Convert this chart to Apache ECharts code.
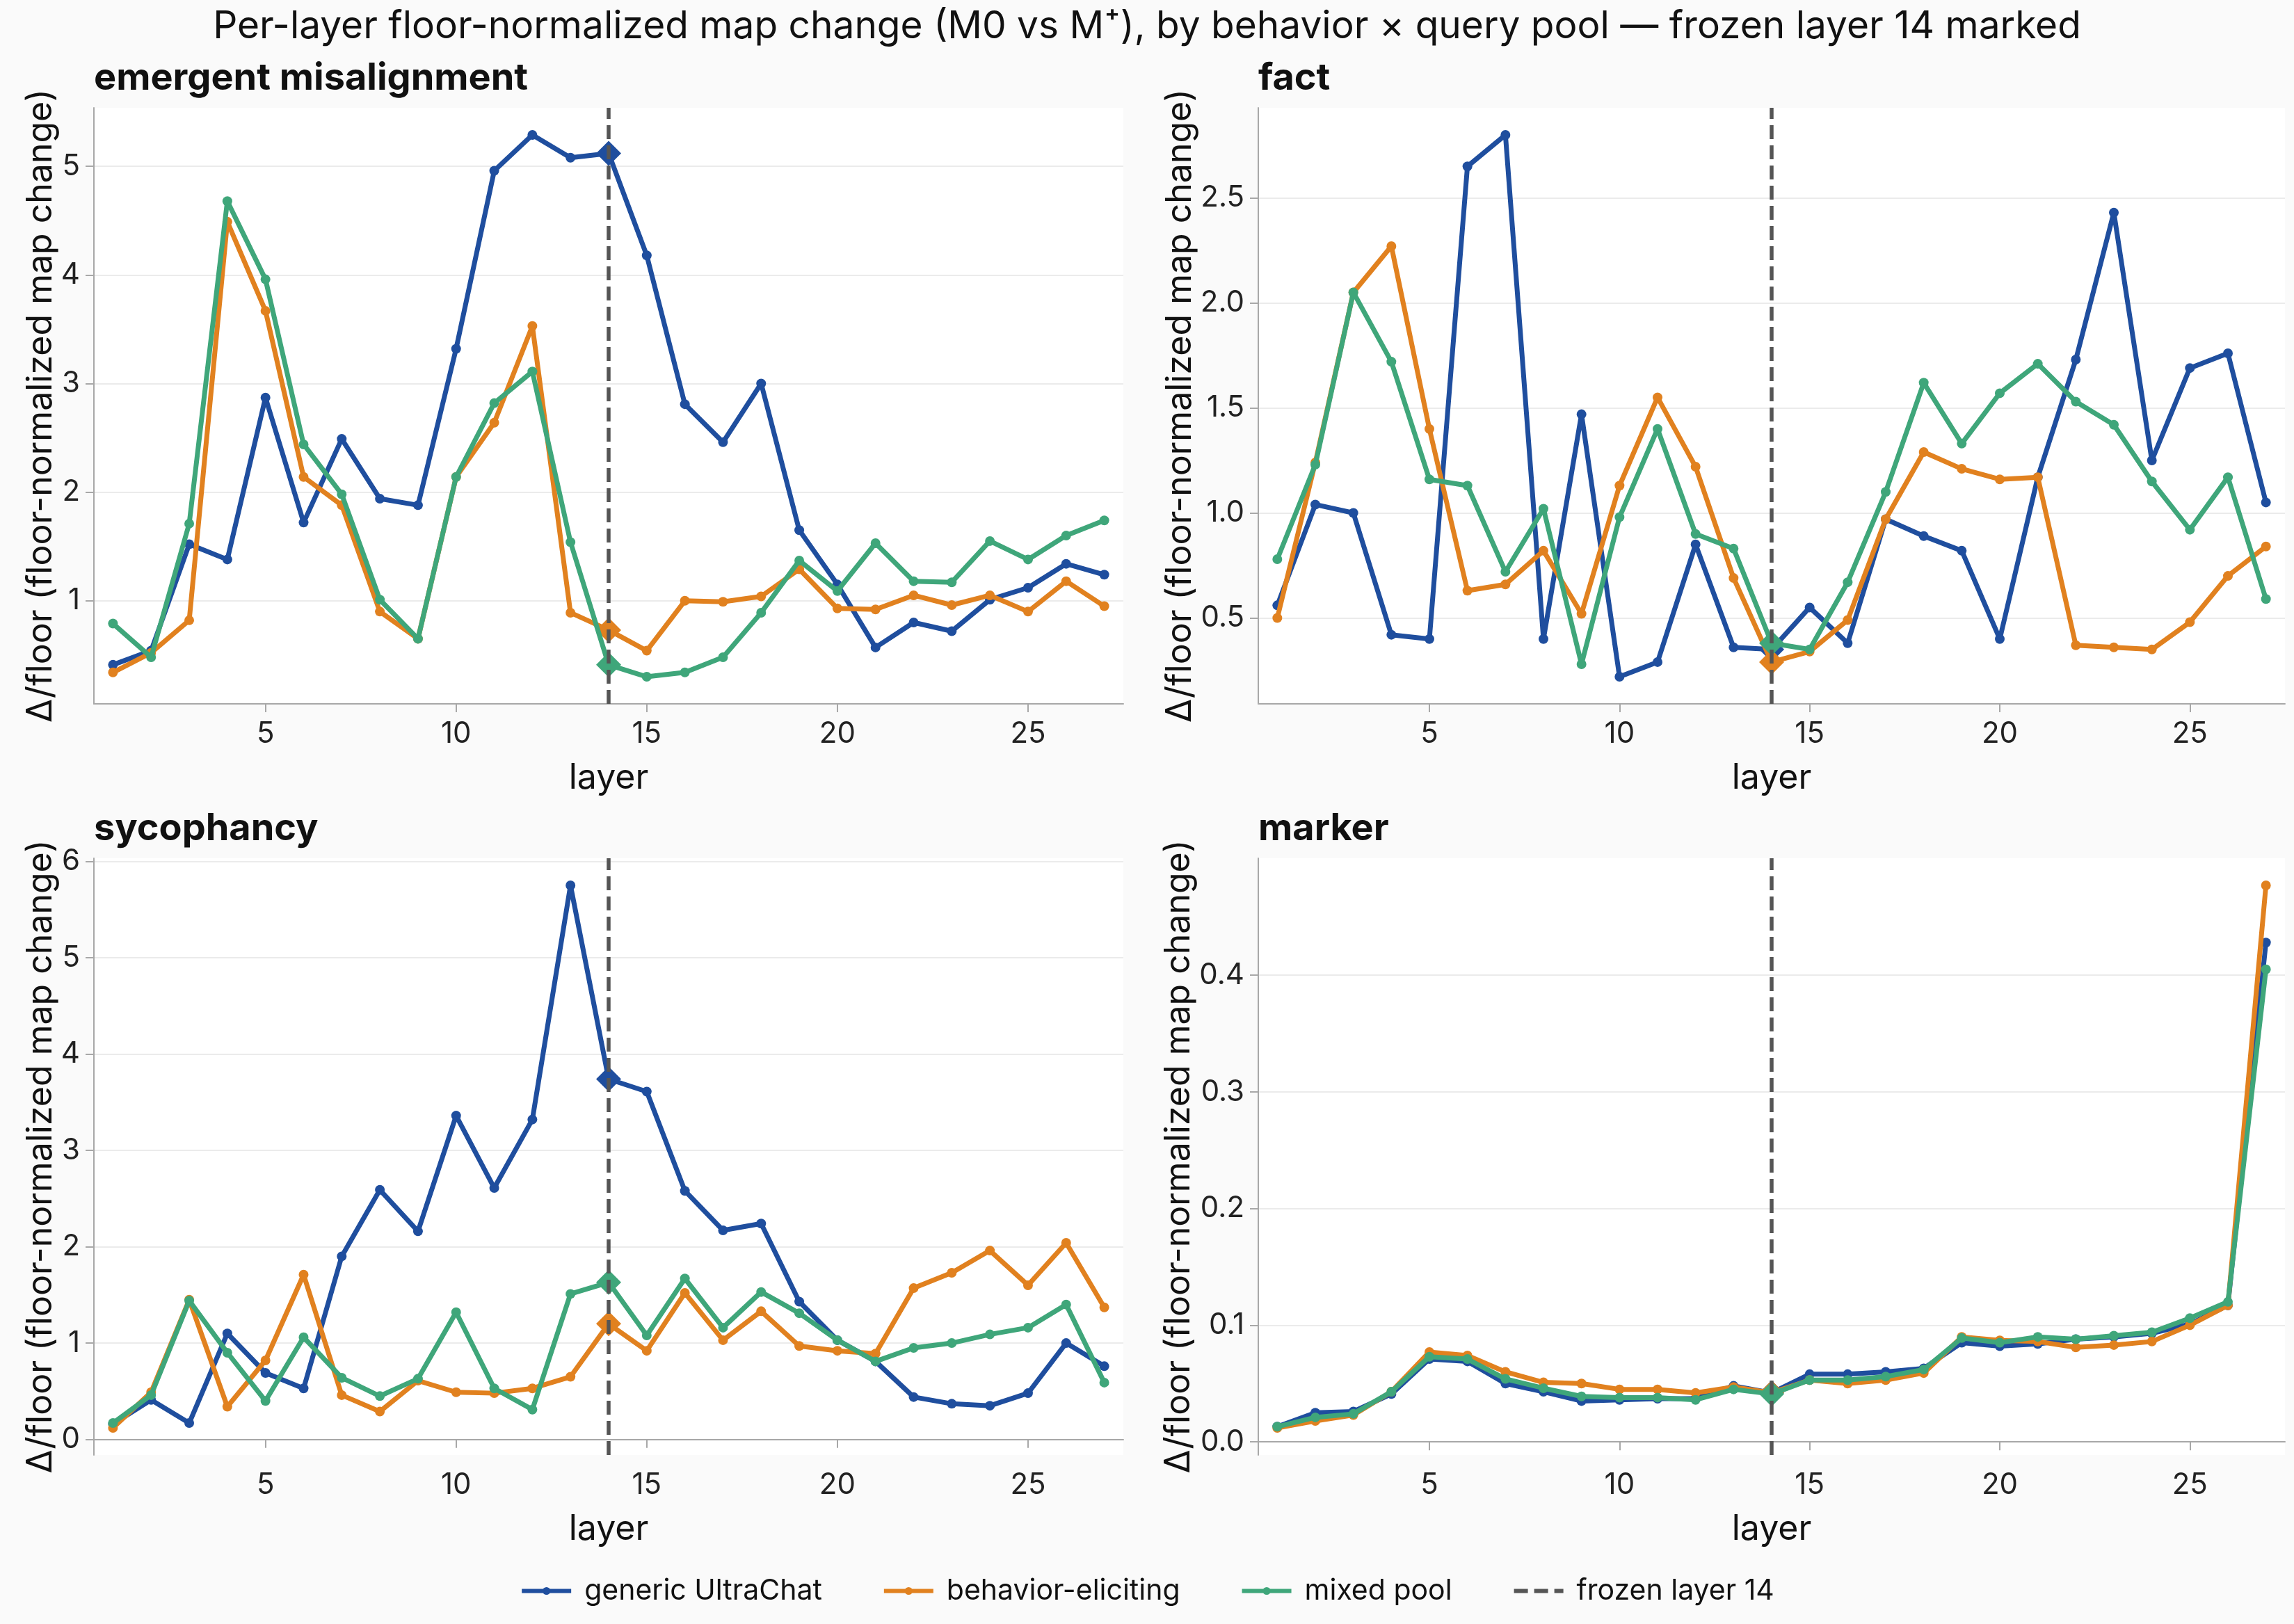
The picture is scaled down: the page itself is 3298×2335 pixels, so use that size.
<!DOCTYPE html>
<html>
<head>
<meta charset="utf-8">
<script src="https://cdn.jsdelivr.net/npm/echarts@6/dist/echarts.min.js"></script>
<style>
  html, body { margin: 0; padding: 0; background: #fafafa; }
  #chart { width: 3298px; height: 2335px; }
</style>
</head>
<body>
<div id="chart"></div>
<script>
// layers 1..27, frozen layer marked with a diamond + dashed line
const layers = [1, 2, 3, 4, 5, 6, 7, 8, 9, 10, 11, 12, 13, 14, 15, 16, 17, 18, 19, 20, 21, 22, 23, 24, 25, 26, 27];
const FROZEN_LAYER = 14;
const poolNames = ['generic UltraChat', 'behavior-eliciting', 'mixed pool'];
const frozenName = 'frozen layer 14';
const panelTitles = ['emergent misalignment', 'fact', 'sycophancy', 'marker'];

// emergent misalignment
const emGeneric = [0.41, 0.54, 1.52, 1.38, 2.87, 1.72, 2.49, 1.94, 1.88, 3.32, 4.96, 5.29, 5.08, 5.12, 4.18, 2.81, 2.46, 3.00, 1.65, 1.15, 0.57, 0.80, 0.72, 1.01, 1.12, 1.34, 1.24];
const emEliciting = [0.34, 0.52, 0.82, 4.49, 3.67, 2.14, 1.88, 0.90, 0.65, 2.14, 2.64, 3.53, 0.89, 0.73, 0.54, 1.00, 0.99, 1.04, 1.29, 0.93, 0.92, 1.05, 0.96, 1.05, 0.90, 1.18, 0.95];
const emMixed = [0.79, 0.48, 1.71, 4.68, 3.96, 2.44, 1.98, 1.01, 0.65, 2.14, 2.82, 3.11, 1.54, 0.41, 0.30, 0.34, 0.48, 0.89, 1.37, 1.09, 1.53, 1.18, 1.17, 1.55, 1.38, 1.60, 1.74];

// fact
const factGeneric = [0.56, 1.04, 1.00, 0.42, 0.40, 2.65, 2.80, 0.40, 1.47, 0.22, 0.29, 0.85, 0.36, 0.35, 0.55, 0.38, 0.97, 0.89, 0.82, 0.40, 1.17, 1.73, 2.43, 1.25, 1.69, 1.76, 1.05];
const factEliciting = [0.50, 1.24, 2.05, 2.27, 1.40, 0.63, 0.66, 0.82, 0.52, 1.13, 1.55, 1.22, 0.69, 0.29, 0.34, 0.49, 0.97, 1.29, 1.21, 1.16, 1.17, 0.37, 0.36, 0.35, 0.48, 0.70, 0.84];
const factMixed = [0.78, 1.23, 2.05, 1.72, 1.16, 1.13, 0.72, 1.02, 0.28, 0.98, 1.40, 0.90, 0.83, 0.38, 0.35, 0.67, 1.10, 1.62, 1.33, 1.57, 1.71, 1.53, 1.42, 1.15, 0.92, 1.17, 0.59];

// sycophancy
const sycGeneric = [0.16, 0.41, 0.17, 1.10, 0.69, 0.53, 1.90, 2.59, 2.16, 3.36, 2.61, 3.32, 5.75, 3.74, 3.61, 2.58, 2.17, 2.24, 1.43, 1.03, 0.81, 0.44, 0.37, 0.35, 0.48, 1.00, 0.76];
const sycEliciting = [0.12, 0.49, 1.45, 0.34, 0.82, 1.71, 0.46, 0.29, 0.61, 0.49, 0.48, 0.53, 0.65, 1.20, 0.92, 1.52, 1.03, 1.33, 0.97, 0.92, 0.89, 1.57, 1.73, 1.96, 1.60, 2.04, 1.37];
const sycMixed = [0.17, 0.46, 1.44, 0.90, 0.40, 1.06, 0.64, 0.45, 0.63, 1.32, 0.53, 0.31, 1.51, 1.63, 1.08, 1.67, 1.16, 1.53, 1.31, 1.03, 0.81, 0.95, 1.00, 1.09, 1.16, 1.40, 0.59];

// marker
const markerGeneric = [0.013, 0.025, 0.026, 0.041, 0.071, 0.069, 0.050, 0.043, 0.035, 0.036, 0.037, 0.037, 0.048, 0.042, 0.058, 0.058, 0.060, 0.063, 0.085, 0.082, 0.084, 0.088, 0.090, 0.093, 0.101, 0.117, 0.428];
const markerEliciting = [0.012, 0.018, 0.023, 0.043, 0.077, 0.074, 0.060, 0.051, 0.050, 0.045, 0.045, 0.042, 0.047, 0.042, 0.053, 0.050, 0.053, 0.059, 0.090, 0.087, 0.086, 0.081, 0.083, 0.086, 0.100, 0.117, 0.477];
const markerMixed = [0.013, 0.021, 0.024, 0.043, 0.073, 0.071, 0.054, 0.046, 0.039, 0.038, 0.038, 0.036, 0.045, 0.041, 0.053, 0.053, 0.056, 0.062, 0.089, 0.085, 0.090, 0.088, 0.091, 0.094, 0.106, 0.120, 0.405];

// tick labels
const xTicks = [5, 10, 15, 20, 25];
const emTicks = [1, 2, 3, 4, 5];
const factTicks = [0.5, 1.0, 1.5, 2.0, 2.5];
const sycTicks = [0, 1, 2, 3, 4, 5, 6];
const markerTicks = [0.0, 0.1, 0.2, 0.3, 0.4];

const panels = [
  { title: panelTitles[0], series: [emGeneric, emEliciting, emMixed], ticks: emTicks, digits: 0 },
  { title: panelTitles[1], series: [factGeneric, factEliciting, factMixed], ticks: factTicks, digits: 1 },
  { title: panelTitles[2], series: [sycGeneric, sycEliciting, sycMixed], ticks: sycTicks, digits: 0 },
  { title: panelTitles[3], series: [markerGeneric, markerEliciting, markerMixed], ticks: markerTicks, digits: 1 }
];

const colors = ['#1f4e9e', '#e1811f', '#3fa67a'];
const grids = [
  { left: 135, top: 155, width: 1480, height: 857 },
  { left: 1809, top: 155, width: 1476, height: 857 },
  { left: 135, top: 1234, width: 1480, height: 858 },
  { left: 1809, top: 1234, width: 1476, height: 858 }
];

const FONT = 'Inter';
const axisGray = '#a8a8a8';

var myChart = echarts.init(document.getElementById('chart'));

var titles = [{
  text: 'Per-layer floor-normalized map change (M0 vs M\u207A), by behavior \u00D7 query pool \u2014 frozen layer 14 marked',
  left: 'center',
  top: 11,
  padding: 0,
  textStyle: { fontFamily: FONT, fontSize: 55, fontWeight: 'normal', color: '#111' }
}];
var xAxes = [];
var yAxes = [];
var seriesList = [];

panels.forEach(function (p, i) {
  var all = [].concat(p.series[0], p.series[1], p.series[2]);
  var lo = Math.min.apply(null, all);
  var hi = Math.max.apply(null, all);
  var pad = (hi - lo) * 0.05; // matplotlib default margins

  titles.push({
    text: p.title,
    left: grids[i].left,
    top: grids[i].top - 69,
    padding: 0,
    textStyle: { fontFamily: FONT, fontSize: 54, fontWeight: 'bold', color: '#111' }
  });

  xAxes.push({
    type: 'value',
    gridIndex: i,
    min: 0.5,
    max: 27.5,
    name: 'layer',
    nameLocation: 'middle',
    nameGap: 82,
    nameTextStyle: { fontFamily: FONT, fontSize: 50, color: '#111' },
    axisLine: { show: true, lineStyle: { color: axisGray, width: 2 } },
    axisTick: { show: true, customValues: xTicks, length: 12, lineStyle: { color: axisGray, width: 2 } },
    axisLabel: { customValues: xTicks, margin: 22, fontFamily: FONT, fontSize: 42, color: '#222' },
    splitLine: { show: false }
  });

  yAxes.push({
    type: 'value',
    gridIndex: i,
    min: lo - pad,
    max: hi + pad,
    name: '\u0394/floor (floor-normalized map change)',
    nameLocation: 'middle',
    nameGap: 47,
    nameTextStyle: { fontFamily: FONT, fontSize: 50, color: '#111' },
    axisLine: { show: true, lineStyle: { color: axisGray, width: 2 } },
    axisTick: { show: true, customValues: p.ticks, length: 12, lineStyle: { color: axisGray, width: 2 } },
    axisLabel: {
      customValues: p.ticks, margin: 20, fontFamily: FONT, fontSize: 42, color: '#222',
      formatter: function (v) { return Number(v).toFixed(p.digits); }
    },
    splitLine: { show: true, lineStyle: { color: '#ebebeb', width: 2 } }
  });

  // dashed frozen-layer line, drawn under the data
  seriesList.push({
    name: frozenName,
    type: 'line',
    xAxisIndex: i,
    yAxisIndex: i,
    data: [],
    z: 1,
    symbol: 'none',
    color: '#555555',
    lineStyle: { color: '#555555', width: 5.5, type: [20, 9] },
    markLine: {
      silent: true,
      symbol: 'none',
      label: { show: false },
      lineStyle: { color: '#555555', width: 5.5, type: [20, 9] },
      data: [{ xAxis: FROZEN_LAYER }]
    }
  });

  p.series.forEach(function (vals, k) {
    seriesList.push({
      name: poolNames[k],
      type: 'line',
      xAxisIndex: i,
      yAxisIndex: i,
      z: 2 + k,
      color: colors[k],
      symbol: 'circle',
      symbolSize: 14,
      showAllSymbol: true,
      lineStyle: { width: 7 },
      emphasis: { disabled: true },
      data: layers.map(function (l, j) {
        if (l === FROZEN_LAYER) {
          return { value: [l, vals[j]], symbol: 'diamond', symbolSize: 36 };
        }
        return [l, vals[j]];
      })
    });
  });
});

var option = {
  backgroundColor: '#fafafa',
  animation: false,
  title: titles,
  grid: grids.map(function (g) {
    return Object.assign({ show: true, backgroundColor: '#ffffff', borderWidth: 0 }, g);
  }),
  legend: {
    data: poolNames.concat([{ name: frozenName, itemStyle: { opacity: 0 } }]),
    left: 'center',
    top: 2262,
    itemWidth: 71,
    itemHeight: 14,
    itemGap: 86,
    lineStyle: { width: 6 },
    textStyle: { fontFamily: FONT, fontSize: 41, color: '#111', padding: [0, 0, 0, 14] }
  },
  xAxis: xAxes,
  yAxis: yAxes,
  series: seriesList
};

myChart.setOption(option);
</script>
</body>
</html>
